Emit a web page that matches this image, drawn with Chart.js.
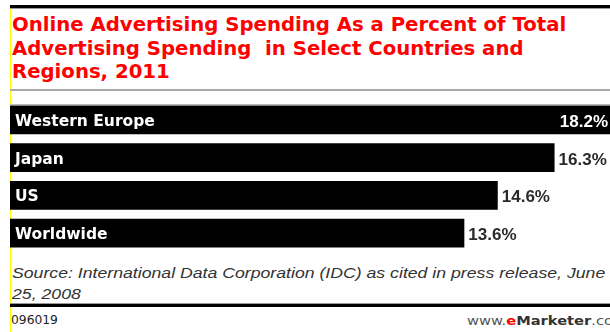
<!DOCTYPE html>
<html lang="en">
<head>
  <meta charset="UTF-8">
  <title>Online Advertising Spending, 2011</title>
  <script src="https://cdn.jsdelivr.net/npm/chart.js"></script>
  <style>
    body {
      margin: 0;
      width: 610px;
      height: 332px;
      overflow: hidden;
      background: #fff;
      position: relative;
    }
    .rule { position: absolute; left: 10px; width: 600px; }
    #edge {
      position: absolute;
      left: 10px;
      top: 5px;
      width: 1px;
      height: 327px;
      background: #ffff00;
    }
    h2 {
      position: absolute;
      left: 12px;
      top: 13px;
      margin: 0;
      font-family: "DejaVu Sans", sans-serif;
      font-weight: bold;
      font-size: 19.7px;
      line-height: 23.5px;
      color: #ff0000;
      white-space: pre;
    }
    .source {
      position: absolute;
      left: 12px;
      top: 262px;
      font-family: "Liberation Sans", Arial, sans-serif;
      font-style: italic;
      font-size: 15.5px;
      line-height: 21px;
      color: #333;
      white-space: pre;
      transform: scaleX(1.14);
      transform-origin: left;
    }
    .code {
      position: absolute;
      left: 11px;
      top: 313px;
      font-family: "DejaVu Sans", sans-serif;
      font-size: 12.3px;
      color: #222;
    }
    .brand {
      position: absolute;
      left: 467px;
      top: 314px;
      font-family: "DejaVu Sans", sans-serif;
      font-size: 12px;
      color: #555;
      white-space: nowrap;
      transform: scaleX(1.22);
      transform-origin: left;
    }
    .brand .e { color: #ff0000; font-weight: bold; }
    .brand b { color: #333; }
  </style>
</head>
<body>
  <div id="edge"></div>
  <div class="rule" style="top:5px;height:3px;background:#000"></div>
  <div class="rule" style="top:8px;height:1px;background:#999"></div>
  <h2>Online Advertising Spending As a Percent of Total
Advertising Spending  in Select Countries and
Regions, 2011</h2>
  <div class="rule" style="top:89px;height:2px;background:#aaa"></div>
  <div class="rule" style="top:104px;height:1px;background:#bbb"></div>

  <canvas id="spendChart" width="600" height="151" style="position:absolute;left:10px;top:101px"></canvas>

  <div class="source">Source: International Data Corporation (IDC) as cited in press release, June
25, 2008</div>
  <div class="rule" style="top:303px;height:1px;background:#999"></div>
  <div class="rule" style="top:304px;height:3px;background:#000"></div>
  <div class="code">096019</div>
  <div class="brand">www.<span class="e">e</span><b>Marketer</b>.com</div>

  <script>
    const regions = ['Western Europe', 'Japan', 'US', 'Worldwide'];
    const shares = [18.2, 16.3, 14.6, 13.6];
    // the axis stops short of the top value, so the first bar runs off the edge
    const axisMax = 17.96;

    // region name inside each bar, percentage at its end
    const barLabels = {
      id: 'barLabels',
      afterDatasetsDraw(chart) {
        const ctx = chart.ctx;
        const area = chart.chartArea;
        const meta = chart.getDatasetMeta(0);
        ctx.save();
        ctx.textBaseline = 'alphabetic';
        meta.data.forEach((bar, i) => {
          ctx.font = 'bold 15.5px "DejaVu Sans"';
          ctx.fillStyle = '#fff';
          ctx.textAlign = 'left';
          ctx.fillText(regions[i], area.left + 5, bar.y + 6);

          const text = shares[i].toFixed(1) + '%';
          ctx.font = 'bold 17px "Liberation Sans"';
          const w = ctx.measureText(text).width;
          if (bar.x + 4 + w > area.right) {
            ctx.fillStyle = '#fff';
            ctx.textAlign = 'right';
            ctx.fillText(text, area.right - 2, bar.y + 7);
          } else {
            ctx.fillStyle = '#2a2a2a';
            ctx.textAlign = 'left';
            ctx.fillText(text, bar.x + 4, bar.y + 7);
          }
        });
        ctx.restore();
      }
    };

    new Chart(document.getElementById('spendChart'), {
      type: 'bar',
      data: {
        labels: regions,
        datasets: [{
          data: shares,
          backgroundColor: '#000',
          borderWidth: 0,
          categoryPercentage: 1,
          barPercentage: 0.755
        }]
      },
      options: {
        indexAxis: 'y',
        responsive: false,
        animation: false,
        layout: { padding: 0 },
        plugins: {
          legend: { display: false },
          tooltip: { enabled: false }
        },
        scales: {
          x: { display: false, min: 0, max: axisMax },
          y: { display: false }
        }
      },
      plugins: [barLabels]
    });
  </script>
</body>
</html>
